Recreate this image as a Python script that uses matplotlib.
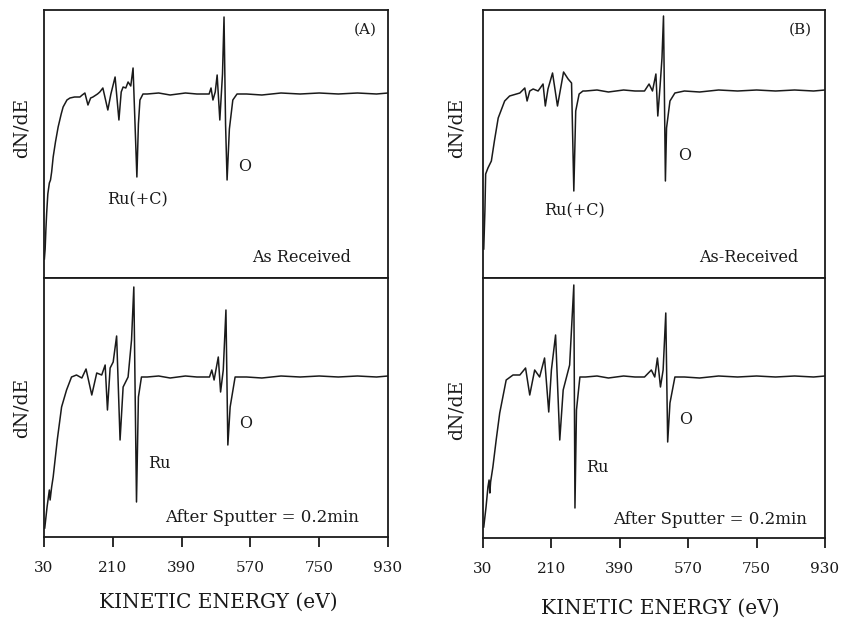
import matplotlib
matplotlib.use("Agg")
import matplotlib.pyplot as plt

# ---------------- data (kinetic energy in eV, dN/dE in arb. units) ----------------
base_mid_E = [300, 330, 360, 400, 430, 455]
base_mid_S = [0.00, 0.01, -0.01, 0.01, 0.00, 0.00]
base_end_E = [560, 600, 650, 700, 750, 800, 850, 900, 930]
base_end_S = [0.00, -0.01, 0.01, 0.00, 0.01, 0.00, 0.01, 0.00, 0.01]

e_A_top = ([31, 33, 35, 37, 40, 44, 47, 50, 54, 60, 67, 75, 80, 90, 98, 110, 124, 130, 137,
            145, 152, 158, 170, 176, 184, 197, 205, 216, 226, 232, 237, 244, 250, 257, 263,
            273, 277, 281, 289] + base_mid_E +
           [462, 467, 472, 478, 483, 490, 497, 501, 505, 509, 515, 524, 535] + base_end_E)
s_A_top = ([-1.65, -1.55, -1.35, -1.19, -1.00, -0.89, -0.86, -0.78, -0.63, -0.48, -0.33, -0.20,
            -0.13, -0.06, -0.04, -0.03, -0.03, -0.01, 0.01, -0.11, -0.04, -0.03, 0.00, 0.02,
            0.06, -0.16, 0.00, 0.17, -0.26, 0.02, 0.07, 0.06, 0.12, 0.08, 0.26, -0.83, -0.30,
            -0.06, 0.00] + base_mid_S +
           [0.00, 0.06, -0.06, 0.02, 0.19, -0.26, 0.20, 0.77, -0.30, -0.86, -0.35, -0.06, 0.00]
           + base_end_S)

e_A_bot = ([32, 38, 44, 46, 50, 54, 65, 76, 89, 102, 115, 129, 140, 155, 168, 181, 190, 196,
            203, 211, 220, 229, 237, 250, 259, 265, 272, 277, 285] + base_mid_E +
           [463, 469, 475, 486, 492, 499, 506, 511, 517, 530] + base_end_E)
s_A_bot = ([-1.51, -1.30, -1.13, -1.23, -1.10, -1.00, -0.62, -0.30, -0.13, 0.00, 0.02, -0.01,
            0.08, -0.18, 0.04, 0.02, 0.12, -0.33, 0.09, 0.15, 0.41, -0.63, -0.10, 0.00, 0.37,
            0.90, -1.25, -0.20, 0.00] + base_mid_S +
           [0.00, 0.07, -0.03, 0.20, -0.15, 0.07, 0.67, -0.68, -0.30, 0.00] + base_end_S)

e_B_top = ([32, 35, 37, 43, 52, 60, 70, 87, 100, 127, 140, 146, 153, 162, 175, 188, 194, 201,
            213, 226, 242, 254, 263, 269, 274, 283, 293] + base_mid_E +
           [467, 476, 485, 490, 496, 501, 505, 510, 513, 522, 535] + base_end_E)
s_B_top = ([-1.58, -1.20, -0.83, -0.77, -0.70, -0.50, -0.27, -0.10, -0.05, -0.02, 0.03, -0.10,
            0.00, 0.02, 0.00, 0.07, -0.15, 0.02, 0.18, -0.15, 0.19, 0.12, 0.08, -1.00, -0.20,
            -0.03, 0.00] + base_mid_S +
           [0.07, 0.00, 0.17, -0.25, 0.05, 0.33, 0.75, -0.90, -0.37, -0.10, -0.02] + base_end_S)

e_B_bot = ([32, 38, 43, 46, 48, 50, 56, 65, 74, 91, 109, 127, 142, 153, 166, 179, 192, 203,
            210, 221, 232, 241, 258, 269, 272, 276, 285] + base_mid_E +
           [473, 482, 489, 497, 504, 511, 516, 522, 535] + base_end_E)
s_B_bot = ([-1.50, -1.30, -1.10, -1.03, -1.16, -1.05, -0.90, -0.62, -0.36, -0.03, 0.02, 0.02,
            0.09, -0.18, 0.07, 0.00, 0.19, -0.35, 0.07, 0.42, -0.63, -0.13, 0.12, 0.92, -1.31,
            -0.33, 0.00] + base_mid_S +
           [0.07, 0.00, 0.19, -0.10, 0.07, 0.64, -0.65, -0.26, 0.00] + base_end_S)

x_ticks = [30, 210, 390, 570, 750, 930]

# ---------------- figure ----------------
W, H = 846, 621
fig = plt.figure(figsize=(W / 100, H / 100), dpi=100)
SERIF = ["DejaVu Serif"]
INK = "#1a1a1a"


def fx(x):
    return x / W


def fy(y):
    return 1 - y / H


def make_ax(x0, x1, ytop, ybot):
    return fig.add_axes([fx(x0), fy(ybot), fx(x1) - fx(x0), fy(ytop) - fy(ybot)])


axA1 = make_ax(44, 388, 10, 278)
axA2 = make_ax(44, 388, 278, 537)
axB1 = make_ax(483, 825, 10, 278)
axB2 = make_ax(483, 825, 278, 538)

panels = [
    (axA1, e_A_top, s_A_top, (-1.84, 0.84)),
    (axA2, e_A_bot, s_A_bot, (-1.60, 0.99)),
    (axB1, e_B_top, s_B_top, (-1.87, 0.81)),
    (axB2, e_B_bot, s_B_bot, (-1.61, 0.99)),
]
for ax, e, s, yl in panels:
    ax.plot(e, s, color=INK, lw=1.1)
    ax.set_xlim(30, 930)
    ax.set_ylim(*yl)
    ax.set_yticks([])
    for sp in ax.spines.values():
        sp.set_linewidth(1.3)
        sp.set_color(INK)
    ax.set_facecolor("white")

for ax in (axA1, axB1):
    ax.set_xticks([])
for ax in (axA2, axB2):
    ax.set_xticks(x_ticks)
    ax.set_xticklabels([str(t) for t in x_ticks], family=SERIF, fontsize=11, color=INK)
    ax.tick_params(axis="x", direction="out", length=7, width=1.3, pad=10, colors=INK)

# y labels
for (x, y) in [(22, 128), (22, 408), (457, 128), (457, 410)]:
    fig.text(fx(x), fy(y), "dN/dE", rotation=90, ha="center", va="center",
             family=SERIF, fontsize=13.5, color=INK)

# x labels
fig.text(fx(218), fy(602), "KINETIC ENERGY (eV)", ha="center", va="center",
         family=SERIF, fontsize=14.5, color=INK)
fig.text(fx(660), fy(608), "KINETIC ENERGY (eV)", ha="center", va="center",
         family=SERIF, fontsize=14.5, color=INK)

# annotations
ann = [
    (365, 30, "(A)", 11),
    (137, 200, "Ru(+C)", 11.5),
    (245, 166, "O", 11.5),
    (302, 257, "As Received", 11.5),
    (159, 463, "Ru", 11.5),
    (246, 424, "O", 11.5),
    (262, 517, "After Sputter = 0.2min", 12),
    (800, 30, "(B)", 11),
    (574, 211, "Ru(+C)", 11.5),
    (685, 155, "O", 11.5),
    (749, 257, "As-Received", 11.5),
    (597, 467, "Ru", 11.5),
    (686, 420, "O", 11.5),
    (710, 519, "After Sputter = 0.2min", 12),
]
for x, y, t, fs in ann:
    fig.text(fx(x), fy(y), t, ha="center", va="center", family=SERIF, fontsize=fs, color=INK)

fig.savefig("out.png", dpi=100, facecolor="white")
